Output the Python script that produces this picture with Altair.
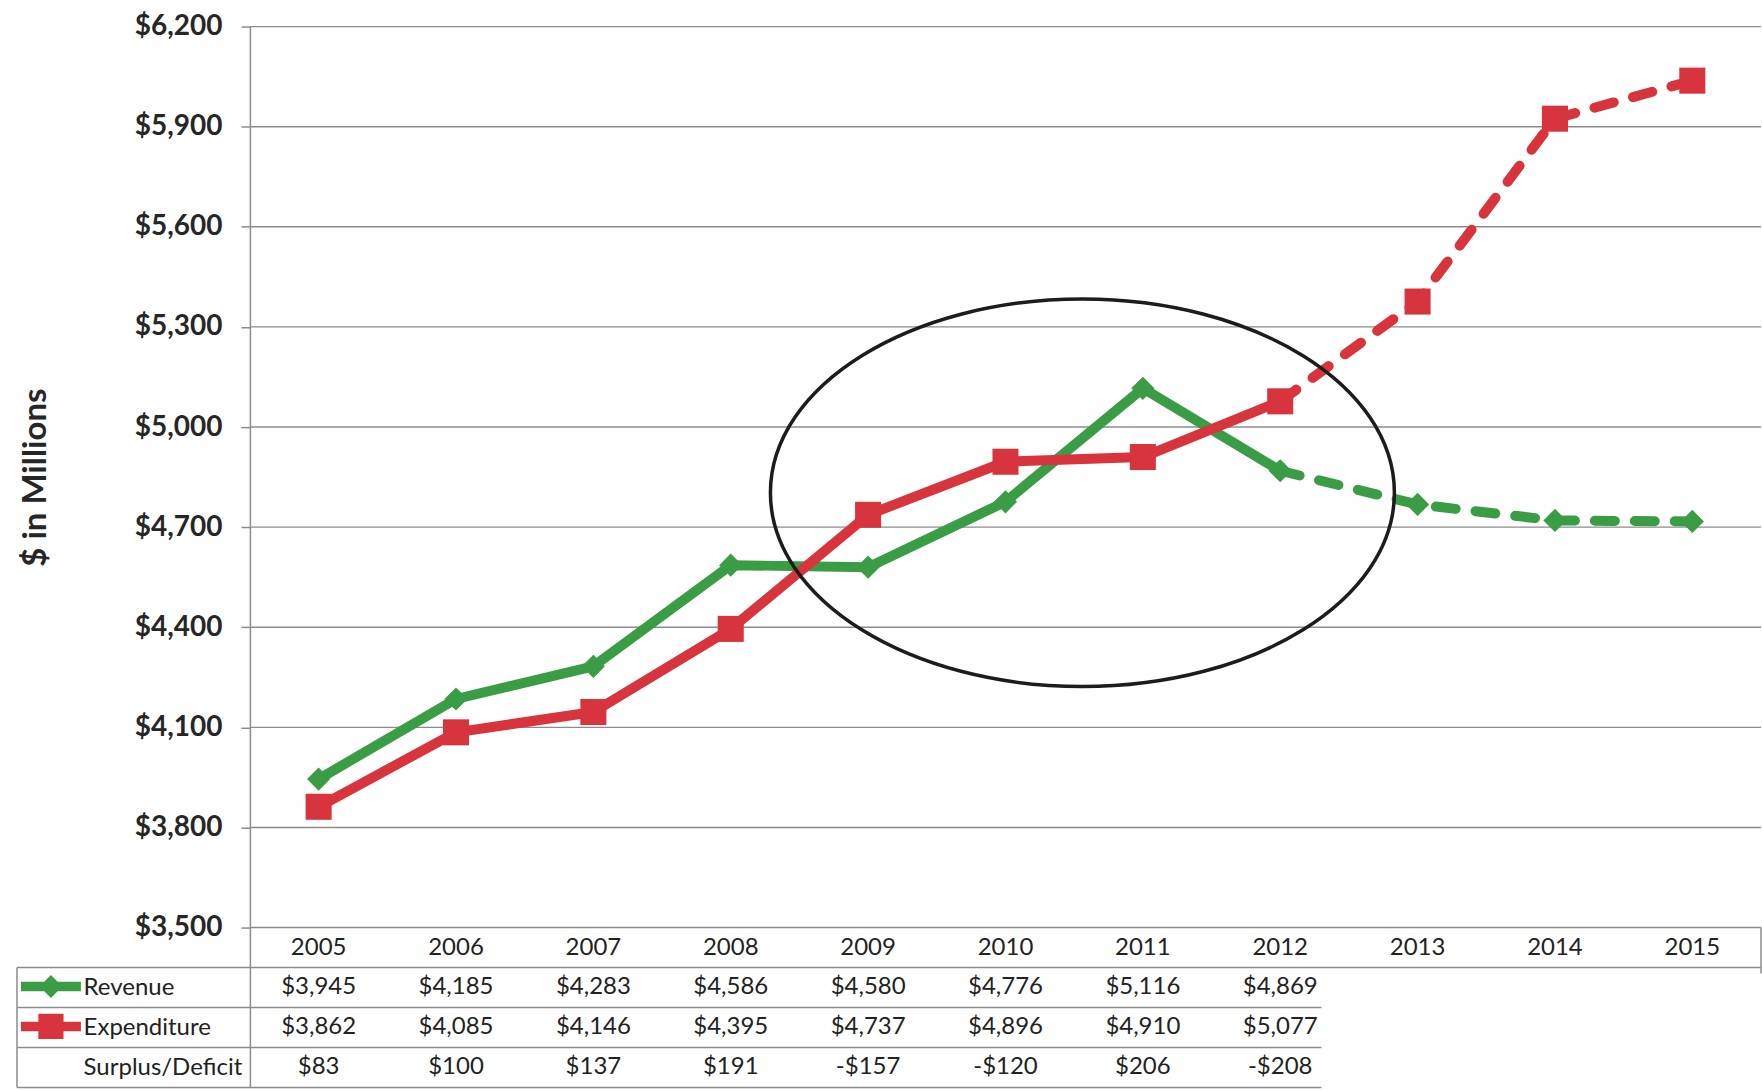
import json

import altair as alt
import pandas as pd

# Budget history 2005-2012 and projection 2013-2015, $ in millions
years = [2005, 2006, 2007, 2008, 2009, 2010, 2011, 2012, 2013, 2014, 2015]
revenue = [3945, 4185, 4283, 4586, 4580, 4776, 5116, 4869]
expenditure = [3862, 4085, 4146, 4395, 4737, 4896, 4910, 5077]
surplus = [83, 100, 137, 191, -157, -120, 206, -208]
revenue_projection = [4768, 4720, 4717]
expenditure_projection = [5376, 5924, 6038]
y_ticks = [3500, 3800, 4100, 4400, 4700, 5000, 5300, 5600, 5900, 6200]
row_names = ["Year", "Revenue", "Expenditure", "Surplus/Deficit"]

# centre (year, $) of the ellipse that highlights 2008-2012
focus_center = (2010.56, 4803)

# ---- styling / layout ----
GREEN = "#3b9c46"
RED = "#d8343d"
GRID = "#8c8c8c"
INK = "#222222"
FONT = "Lato"
LINE_W = 10

BAND = 137.5          # px per year
LABEL_COL = 233.2     # px, label column of the data table
X_MIN = years[0] - 0.5 - LABEL_COL / BAND
X_MAX = years[-1] + 0.5
PLOT_W = round((X_MAX - X_MIN) * BAND)
TOP_H = 902
TABLE_H = 160

ELLIPSE = ("M1.61,0 C1.61,0.5523 0.8892,1 0,1 C-0.8892,1 -1.61,0.5523 -1.61,0 "
           "C-1.61,-0.5523 -0.8892,-1 0,-1 C0.8892,-1 1.61,-0.5523 1.61,0 Z")
REV_KEY = "M-1,-0.16L1,-0.16L1,0.16L-1,0.16Z M-0.38,0L0,-0.38L0.38,0L0,0.38Z"
EXP_KEY = "M-1,-0.16L1,-0.16L1,0.16L-1,0.16Z M-0.42,-0.42L0.42,-0.42L0.42,0.42L-0.42,0.42Z"

n_act = len(revenue)
act_years = years[:n_act]
proj_years = years[n_act - 1:]   # dashed part starts at the last actual year

x_scale = alt.Scale(domain=[X_MIN, X_MAX], nice=False, zero=False)
y_scale = alt.Scale(domain=[y_ticks[0], y_ticks[-1]], nice=False, zero=False)
y_axis = alt.Axis(
    values=y_ticks, format="$,.0f", offset=-LABEL_COL, grid=False,
    labelFont=FONT, labelFontWeight="bold", labelFontSize=28, labelColor="#262626",
    labelPadding=19, tickSize=9, tickColor=GRID, tickWidth=1.5,
    domainColor=GRID, domainWidth=1.5,
    title="$ in Millions", titleFont=FONT, titleFontSize=33, titleFontWeight="bold",
    titleColor="#262626", titlePadding=82,
)
X = alt.X("year:Q", scale=x_scale, axis=None)
Y = alt.Y("value:Q", scale=y_scale, axis=y_axis)

grid_df = pd.DataFrame({"value": y_ticks, "x0": years[0] - 0.5, "x1": X_MAX})
grid = alt.Chart(grid_df).mark_rule(color=GRID, strokeWidth=1.4).encode(
    x=alt.X("x0:Q", scale=x_scale, axis=None), x2="x1:Q", y=Y
)


def series_layers(actual, projection, color, shape, size):
    act = pd.DataFrame({"year": act_years, "value": actual})
    proj = pd.DataFrame({"year": proj_years, "value": [actual[-1]] + projection})
    pts = pd.DataFrame({"year": years, "value": actual + projection})
    solid = alt.Chart(act).mark_line(
        color=color, strokeWidth=LINE_W, strokeJoin="round"
    ).encode(x=X, y=Y)
    dashed = alt.Chart(proj).mark_line(
        color=color, strokeWidth=LINE_W, strokeDash=[20, 20], strokeCap="round",
        strokeJoin="round"
    ).encode(x=X, y=Y)
    markers = alt.Chart(pts).mark_point(
        shape=shape, size=size, filled=True, color=color, opacity=1
    ).encode(x=X, y=Y)
    return [solid, dashed, markers]


focus_df = pd.DataFrame({"year": [focus_center[0]], "value": [focus_center[1]]})
focus = alt.Chart(focus_df).mark_point(
    shape=ELLIPSE, size=150544, filled=False, color="#1c1c1c", strokeWidth=3.5, opacity=1
).encode(x=X, y=Y)

top = alt.layer(
    grid,
    *series_layers(revenue, revenue_projection, GREEN, "diamond", 540),
    *series_layers(expenditure, expenditure_projection, RED, "square", 680),
    focus,
).properties(width=PLOT_W, height=TOP_H)

# ---- data table under the plot ----
def money(v):
    return f"-${abs(v):,}" if v < 0 else f"${v:,}"


cells = [{"year": y, "row": 0, "text": str(y)} for y in years]
for r, vals in ((1, revenue), (2, expenditure), (3, surplus)):
    cells += [{"year": y, "row": r, "text": money(v)} for y, v in zip(act_years, vals)]
cells_df = pd.DataFrame(cells)
cells_df["ypos"] = cells_df["row"] + 0.5

ty_scale = alt.Scale(domain=[0, len(row_names)], reverse=True, nice=False, zero=False)
row_axis = alt.Axis(
    values=[1.5, 2.5, 3.5], labelExpr=f"{json.dumps(row_names)}[floor(datum.value)]",
    offset=-LABEL_COL, ticks=False, tickSize=0, labelPadding=167, labelAlign="left",
    labelBaseline="middle", labelFont=FONT, labelFontSize=24, labelColor=INK,
    domainColor=GRID, domainWidth=1.5, grid=False, title=None,
)
TX = alt.X("year:Q", scale=x_scale, axis=None)
TY = alt.Y("ypos:Q", scale=ty_scale, axis=row_axis)

table_end = act_years[-1] + 0.3
hlines_df = pd.DataFrame({
    "ypos": [1, 2, 3, 4],
    "x0": [X_MIN] * 4,
    "x1": [X_MAX, table_end, table_end, table_end],
})
hlines = alt.Chart(hlines_df).mark_rule(color=GRID, strokeWidth=1.5).encode(
    x=alt.X("x0:Q", scale=x_scale, axis=None), x2="x1:Q", y=TY
)
vlines_df = pd.DataFrame({"year": [X_MIN, X_MAX], "ypos": [1, 0], "ypos2": [4, 1.15]})
vlines = alt.Chart(vlines_df).mark_rule(color=GRID, strokeWidth=1.5).encode(
    x=TX, y=TY, y2="ypos2:Q"
)

text = alt.Chart(cells_df).mark_text(
    font=FONT, fontSize=24, color=INK, align="center", baseline="middle"
).encode(x=TX, y=TY, text="text:N")


def key_layer(name, color, glyph, legend_y):
    df = pd.DataFrame({"series": [name], "year": [years[0]], "ypos": [1.5]})
    return alt.Chart(df).mark_point(shape=glyph, filled=True, opacity=0).encode(
        x=TX, y=TY,
        color=alt.Color(
            "series:N",
            scale=alt.Scale(domain=[name], range=[color]),
            legend=alt.Legend(
                orient="none", legendX=4, legendY=legend_y, title=None,
                symbolType=glyph, symbolSize=3600, symbolStrokeWidth=0,
                symbolOpacity=1, labelExpr="''", padding=0, labelFontSize=8,
            ),
        ),
    )


bottom = alt.layer(
    hlines, vlines, text,
    key_layer("Revenue", GREEN, REV_KEY, 29),
    key_layer("Expenditure", RED, EXP_KEY, 69),
).resolve_scale(color="independent").properties(width=PLOT_W, height=TABLE_H)

chart = (
    alt.vconcat(top, bottom, spacing=0, bounds="flush")
    .resolve_scale(color="independent")
    .configure_view(stroke=None)
    .properties(padding={"left": 16, "top": 12, "right": 0, "bottom": 0},
                background="white")
)

chart.save("out.html", embed_options={"renderer": "svg", "actions": False})
